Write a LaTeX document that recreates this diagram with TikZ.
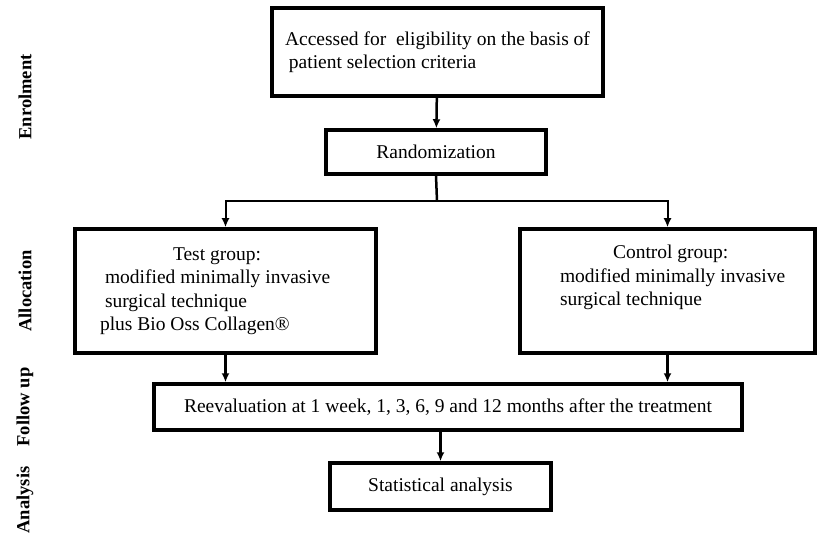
\documentclass[tikz,border=0pt]{standalone}
\usepackage{fontspec}
\setmainfont{Liberation Serif}
\usetikzlibrary{arrows.meta}

\begin{document}
\begin{tikzpicture}[x=1pt, y=-1pt,
  boite/.style={draw, line width=3.5pt, inner sep=0pt, font=\fontsize{19.5}{23.5}\selectfont},
  fleche/.style={line width=2.5pt, -{Latex[length=9pt,width=8pt]}},
  etape/.style={rotate=90, font=\bfseries\fontsize{18.5}{22}\selectfont}]

  % Bounding box of the scheme
  \useasboundingbox (0,0) rectangle (817,540);

  %%%%%%%%%%%%%%%%%%%%%%%%%%%%%%%%% Etapes de l'essai %%%%%%%%%%%%%%%%%%%%%%%%%%%%%%%%%%%%
  \draw (25,97) node[etape] (enrol) {Enrolment} ;
  \draw (25,291) node[etape] (alloc) {Allocation} ;
  \draw (25,407) node[etape] (suivi) {Follow up} ;
  \draw (25,500) node[etape] (analyse) {Analysis} ;

  %%%%%%%%%%%%%%%%%%%%%%%%%%%%%%%%% Boites %%%%%%%%%%%%%%%%%%%%%%%%%%%%%%%%%%%%
  \draw (437.5,52) node[boite, minimum width=331, minimum height=88, align=left] (acces)
    {Accessed for \ eligibility on the basis of\\ \hspace*{0.2em}patient selection criteria} ;
  \draw (436,152) node[boite, minimum width=220, minimum height=44] (rando) {Randomization} ;

  \draw (225.5,291) node[boite, minimum width=301, minimum height=124, text width=251, align=flush left] (test)
    {\hspace*{73pt}Test group:\\ \hspace*{5pt}modified minimally invasive\\ \hspace*{5pt}surgical technique\\ plus Bio Oss Collagen®} ;
  \draw (667.5,291) node[boite, minimum width=295, minimum height=124, text width=245, align=flush left] (control)
    {\hspace*{68pt}Control group:\\ \hspace*{15pt}modified minimally invasive\\ \hspace*{15pt}surgical technique\\ \strut} ;

  \draw (448,407) node[boite, minimum width=588, minimum height=46] (reeval)
    {Reevaluation at 1 week, 1, 3, 6, 9 and 12 months after the treatment} ;
  \draw (440.5,486.5) node[boite, minimum width=221, minimum height=47] (stat) {Statistical analysis} ;

  %%%%%%%%%%%%%%%%%%%%%%%%%%%%%%%%% Fleches %%%%%%%%%%%%%%%%%%%%%%%%%%%%%%%%%%%%
  \coordinate (split) at (437,201) ;

  \draw[fleche] (acces) -- (rando) ;
  \draw[line width=2.5pt] (rando.south) -- (split) ;
  \draw[fleche, line width=2pt] (split) -| (test.north) ;
  \draw[fleche, line width=2pt] (split) -| (control.north) ;

  \draw[fleche] (test.south) -- (test.south |- reeval.north) ;
  \draw[fleche] (control.south) -- (control.south |- reeval.north) ;
  \draw[fleche] (stat.north |- reeval.south) -- (stat.north) ;

\end{tikzpicture}
\end{document}
